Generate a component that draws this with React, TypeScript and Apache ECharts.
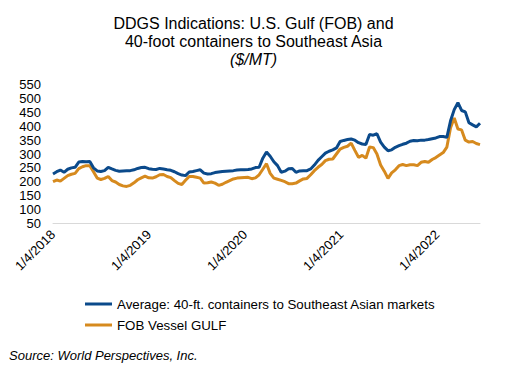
import React, { useEffect, useRef } from "react";
import * as echarts from "echarts";

// Week offsets (every two weeks) from 1/4/2018
const startYMD = [2018, 0, 4];
const weekOffsets = Array.from({ length: 117 }, (_, i) => i * 2);

const containerValues = [
  228, 236, 242, 234, 245, 250, 252, 271, 273, 272,
  273, 250, 239, 237, 240, 252, 246, 241, 238, 239,
  240, 240, 243, 248, 251, 252, 247, 245, 244, 248,
  246, 243, 241, 236, 229, 224, 222, 235, 237, 240,
  243, 231, 228, 229, 233, 235, 237, 238, 239, 240,
  242, 243, 243, 244, 246, 251, 252, 285, 307, 292,
  272, 258, 234, 238, 247, 248, 234, 239, 240, 240,
  246, 260, 277, 290, 303, 310, 315, 322, 345, 349,
  352, 354, 350, 341, 336, 334, 370, 368, 373, 343,
  325, 312, 315, 324, 330, 335, 339, 346, 349, 348,
  350, 350, 352, 355, 358, 363, 363, 360, 420, 460,
  485, 457, 452, 413, 405, 398, 411,
];

const fobValues = [
  200, 206, 202, 212, 222, 227, 230, 247, 254, 258,
  258, 236, 213, 208, 212, 219, 204, 199, 190, 185,
  183, 187, 196, 207, 214, 220, 214, 213, 218, 225,
  226, 219, 215, 204, 194, 190, 205, 219, 219, 216,
  213, 195, 196, 199, 195, 187, 191, 198, 204, 210,
  213, 214, 215, 216, 211, 214, 225, 245, 265, 230,
  213, 209, 205, 200, 193, 193, 195, 203, 210, 212,
  225, 240, 252, 262, 276, 281, 282, 300, 318, 324,
  328, 339, 313, 288, 295, 285, 325, 323, 300, 260,
  238, 212, 232, 243, 258, 262, 258, 261, 261, 258,
  270, 273, 270, 280, 287, 296, 305, 325, 395, 430,
  390, 387, 350, 343, 345, 338, 334,
];

const tickYears = [2018, 2019, 2020, 2021, 2022];
const seriesNames = [
  "Average: 40-ft. containers to Southeast Asian markets",
  "FOB Vessel GULF",
];
const colors = ["#0B4A8B", "#D68A1E"];

const FONT = "'Liberation Sans', Arial, sans-serif";

export default function App() {
  const ref = useRef<HTMLDivElement>(null);
  useEffect(() => {
    document.body.style.margin = "0";
    if (!ref.current) return;
    const chart = echarts.init(ref.current, null, { renderer: "svg" });
    const dates = weekOffsets.map((w) =>
      new Date(startYMD[0], startYMD[1], startYMD[2] + w * 7).getTime()
    );
    const tickValues = tickYears.map((y) => new Date(y, 0, 4).getTime());
    const option: any = {
      animation: false,
      textStyle: { fontFamily: FONT },
      grid: { left: 53, right: 32, top: 84.7, bottom: 144.7, containLabel: false },
      xAxis: {
        type: "value",
        min: dates[0],
        max: dates[dates.length - 1],
        axisLine: { show: true, lineStyle: { color: "#D9D9D9", width: 1 } },
        axisTick: { show: false },
        splitLine: { show: false },
        axisLabel: {
          customValues: tickValues,
          rotate: 45,
          margin: 9,
          fontSize: 13,
          color: "#000",
          fontFamily: FONT,
          formatter: (v: number) => {
            const d = new Date(v);
            return `${d.getMonth() + 1}/${d.getDate()}/${d.getFullYear()}`;
          },
        },
      },
      yAxis: {
        type: "value",
        min: 50,
        max: 550,
        interval: 50,
        axisLine: { show: false },
        axisTick: { show: false },
        splitLine: { show: false },
        axisLabel: { fontSize: 13, color: "#000", margin: 12, fontFamily: FONT },
      },
      legend: {
        orient: "vertical",
        left: 80,
        top: 291,
        icon: "rect",
        itemWidth: 27,
        itemHeight: 3,
        itemGap: 5,
        textStyle: { fontSize: 13.3, color: "#000", lineHeight: 16, fontFamily: FONT },
        data: seriesNames,
      },
      graphic: [
        {
          type: "text",
          x: 253.5,
          y: 23,
          style: {
            text: "DDGS Indications: U.S. Gulf (FOB) and",
            fontSize: 16,
            fontFamily: FONT,
            fill: "#000",
            align: "center",
            verticalAlign: "middle",
          },
        },
        {
          type: "text",
          x: 253.5,
          y: 41,
          style: {
            text: "40-foot containers to Southeast Asia",
            fontSize: 16,
            fontFamily: FONT,
            fill: "#000",
            align: "center",
            verticalAlign: "middle",
          },
        },
        {
          type: "text",
          x: 253.5,
          y: 59,
          style: {
            text: "($/MT)",
            fontSize: 16,
            fontStyle: "italic",
            fontFamily: FONT,
            fill: "#000",
            align: "center",
            verticalAlign: "middle",
          },
        },
        {
          type: "text",
          x: 9,
          y: 355,
          style: {
            text: "Source: World Perspectives, Inc.",
            fontSize: 13,
            fontStyle: "italic",
            fontFamily: FONT,
            fill: "#000",
            align: "left",
            verticalAlign: "middle",
          },
        },
      ],
      series: [
        {
          name: seriesNames[0],
          type: "line",
          symbol: "none",
          data: dates.map((d, i) => [d, containerValues[i]]),
          lineStyle: { color: colors[0], width: 3 },
          itemStyle: { color: colors[0] },
          z: 3,
        },
        {
          name: seriesNames[1],
          type: "line",
          symbol: "none",
          data: dates.map((d, i) => [d, fobValues[i]]),
          lineStyle: { color: colors[1], width: 3 },
          itemStyle: { color: colors[1] },
          z: 2,
        },
      ],
    };
    chart.setOption(option);
    return () => chart.dispose();
  }, []);
  return <div ref={ref} style={{ width: 512, height: 368 }} />;
}
